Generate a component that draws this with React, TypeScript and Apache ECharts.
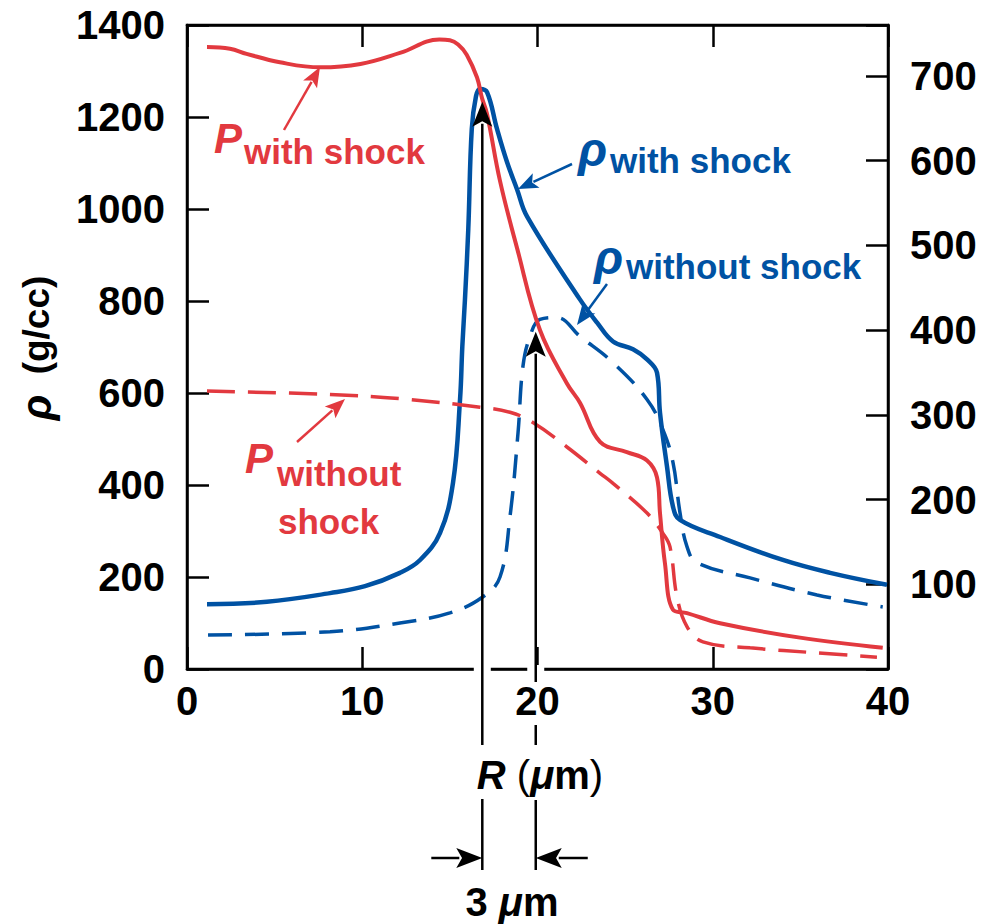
import React, { useEffect, useRef } from "react";
import * as echarts from "echarts";

const FONT = '"Liberation Sans", Arial, Helvetica, sans-serif';
const RED = "#E2393F";
const BLUE = "#0052A3";

// R (µm) values and densities / pressures
const rhoWithShockR = [1.14, 4.56, 8.16, 10.16, 12.15, 13.3, 14.44, 15.18, 15.58, 15.71, 15.86, 16.05, 16.25, 16.49, 16.72, 17.12, 17.69, 18.26, 18.83, 19.4, 22.43, 23.4, 24.31, 25.45, 26.25, 26.82, 26.99, 27.39, 27.73, 28.13, 30.42, 34.0, 36.7, 39.94];
const rhoWithShockV = [141, 146, 165, 180, 209, 237, 296, 405, 586, 701, 803, 956, 1174, 1245, 1261, 1254, 1174, 1102, 1043, 984, 803, 753, 712, 695, 673, 644, 557, 440, 353, 324, 287, 237, 209, 183];

const rhoWithoutShockR = [1.2, 8.16, 12.15, 15.0, 16.89, 17.86, 18.43, 18.89, 19.17, 19.57, 20.14, 21.11, 22.43, 24.31, 26.25, 27.16, 27.73, 28.13, 28.53, 29.1, 32.13, 35.95, 39.7];
const rhoWithoutShockV = [74, 81, 100, 122, 157, 200, 331, 514, 658, 723, 760, 764, 723, 666, 586, 520, 449, 340, 266, 231, 198, 161, 135];

const pWithShockR = [1.14, 2.45, 3.4, 5.3, 7.6, 9.9, 12.15, 14.4, 15.0, 15.47, 15.96, 16.55, 16.83, 17.12, 17.86, 18.83, 20.14, 21.68, 22.43, 23.57, 25.1, 26.25, 26.82, 26.99, 27.27, 27.73, 28.53, 30.42, 34.98, 39.7];
const pWithShockV = [734, 732, 726, 716, 710, 714, 727, 743, 742, 737, 725, 698, 674, 655, 576, 497, 400, 337, 314, 268, 256, 246, 226, 184, 125, 70, 66, 54, 37, 25];

const pWithoutShockR = [1.14, 8.16, 12.15, 16.72, 18.43, 19.74, 21.68, 23.57, 24.31, 26.25, 27.16, 27.56, 27.96, 28.53, 29.44, 32.13, 35.95, 39.37];
const pWithoutShockV = [328, 324, 319, 309, 303, 291, 262, 231, 219, 184, 160, 144, 85, 50, 32, 25, 19, 14];

// axis settings
const xMin = 0, xMax = 40, xStep = 10;
const rhoMin = 0, rhoMax = 1400, rhoStep = 200;
const pMin = 0, pMax = 760, pStep = 100, pLabelMax = 700;

// annotation anchor points (data units)
const shockPeakMark = { r: 16.85, rho: 1233 };
const noShockPeakMark = { r: 19.9, rho: 733 };

const zip = (a: number[], b: number[]) => a.map((x, i) => [x, b[i]]);

function arrow(x1: number, y1: number, x2: number, y2: number, color: string, lw: number, hl: number, hw: number) {
  const dx = x2 - x1, dy = y2 - y1;
  const len = Math.hypot(dx, dy);
  const ux = dx / len, uy = dy / len;
  const bx = x2 - ux * hl, by = y2 - uy * hl;
  const px = -uy, py = ux;
  return [
    { type: "line", z: 60, shape: { x1, y1, x2: bx + ux * 3, y2: by + uy * 3 }, style: { stroke: color, lineWidth: lw } },
    {
      type: "polygon", z: 61,
      shape: { points: [[x2, y2], [bx + px * hw, by + py * hw], [bx + ux * hl * 0.22, by + uy * hl * 0.22], [bx - px * hw, by - py * hw]] },
      style: { fill: color },
    },
  ];
}

function txt(x: number, y: number, text: string, size: number, color: string, italic = false, align = "left") {
  return {
    type: "text", x, y, z: 70,
    style: {
      text, fill: color, fontSize: size, fontWeight: "bold", fontFamily: FONT,
      fontStyle: italic ? "italic" : "normal", align, verticalAlign: "middle",
    },
  };
}

export default function App() {
  const ref = useRef<HTMLDivElement>(null);
  useEffect(() => {
    const el = ref.current!;
    const chart = echarts.init(el, null, { renderer: "svg" });
    const axisLine = () => ({ show: true, onZero: false, lineStyle: { color: "#000", width: 2.5 } });
    const axisTick = () => ({ show: true, inside: true, length: 22, lineStyle: { color: "#000", width: 2.5 } });
    const label = () => ({ color: "#000", fontSize: 40, fontWeight: "bold", fontFamily: FONT });
    const lineCommon = { type: "line", showSymbol: false, smooth: 0.4 };
    chart.setOption({
      animation: false,
      backgroundColor: "#fff",
      grid: { left: 187, right: 93, top: 25, bottom: 255, show: true, borderColor: "#000", borderWidth: 2.5, backgroundColor: "transparent" },
      xAxis: [
        { type: "value", gridIndex: 0, min: xMin, max: xMax, interval: xStep, position: "bottom", axisLine: axisLine(), axisTick: axisTick(), axisLabel: { ...label(), margin: 12, formatter: (v: number) => String(v) }, splitLine: { show: false } },
        { type: "value", gridIndex: 0, min: xMin, max: xMax, interval: xStep, position: "top", axisLine: axisLine(), axisTick: axisTick(), axisLabel: { show: false }, splitLine: { show: false } },
      ],
      yAxis: [
        { type: "value", gridIndex: 0, min: rhoMin, max: rhoMax, interval: rhoStep, position: "left", axisLine: axisLine(), axisTick: axisTick(), axisLabel: { ...label(), margin: 22, formatter: (v: number) => String(v) }, splitLine: { show: false } },
        {
          type: "value", gridIndex: 0, min: pMin, max: pMax, interval: pStep, position: "right", axisLine: axisLine(), axisTick: axisTick(),
          axisLabel: { ...label(), margin: 22, formatter: (v: number) => (v <= 0 || v > pLabelMax ? "" : String(v)) },
          splitLine: { show: false },
        },
      ],
      series: [
        { ...lineCommon, name: "rho without shock", xAxisIndex: 0, yAxisIndex: 0, data: zip(rhoWithoutShockR, rhoWithoutShockV), lineStyle: { color: BLUE, width: 3.5, type: [24, 13] }, z: 3 },
        { ...lineCommon, name: "rho with shock", xAxisIndex: 0, yAxisIndex: 0, data: zip(rhoWithShockR, rhoWithShockV), lineStyle: { color: BLUE, width: 4.5 }, z: 4 },
        { ...lineCommon, name: "P without shock", xAxisIndex: 0, yAxisIndex: 1, data: zip(pWithoutShockR, pWithoutShockV), lineStyle: { color: RED, width: 3.5, type: [28, 13] }, z: 5 },
        { ...lineCommon, name: "P with shock", xAxisIndex: 0, yAxisIndex: 1, data: zip(pWithShockR, pWithShockV), lineStyle: { color: RED, width: 4 }, z: 6 },
      ],
    });

    const gx = (v: number) => chart.convertToPixel({ xAxisIndex: 0 }, v) as number;
    const gy = (v: number) => chart.convertToPixel({ yAxisIndex: 0 }, v) as number;
    const x1 = gx(shockPeakMark.r);
    const x2 = gx(noShockPeakMark.r);
    const tip1 = gy(shockPeakMark.rho);
    const tip2 = gy(noShockPeakMark.rho);
    const axisY = gy(0);
    const vline = (x: number, ya: number, yb: number) => ({ type: "line", z: 60, shape: { x1: x, y1: ya, x2: x, y2: yb }, style: { stroke: "#000", lineWidth: 2.5 } });
    const gapRect = (x: number) => ({ type: "rect", z: 55, shape: { x: x - 8.5, y: axisY - 4, width: 17, height: 8 }, style: { fill: "#fff" } });

    const elements: any[] = [
      gapRect(x1), gapRect(x2),
      ...arrow(x1, axisY + 76, x1, tip1, "#000", 2.5, 25, 10),
      vline(x1, axisY + 130, axisY + 201),
      ...arrow(x2, axisY + 13, x2, tip2, "#000", 2.5, 25, 10),
      vline(x2, axisY + 56, axisY + 76),
      vline(x2, axisY + 131, axisY + 201),
      ...arrow(x1 - 51, axisY + 189, x1, axisY + 189, "#000", 2.5, 26, 10),
      ...arrow(x2 + 52, axisY + 189, x2, axisY + 189, "#000", 2.5, 26, 10),
      // colored label arrows
      ...arrow(284, 130, 320, 67, RED, 2.5, 20, 8),
      ...arrow(572, 164, 518, 189, BLUE, 2.5, 20, 8),
      ...arrow(607, 284, 577, 325, BLUE, 2.5, 20, 8),
      ...arrow(297, 442, 345, 399, RED, 2.5, 20, 8),
      // labels
      txt(214, 138, "P", 42, RED, true),
      txt(244, 151, "with shock", 35, RED),
      txt(578, 149, "ρ", 48, BLUE, true),
      txt(610, 160, "with shock", 35, BLUE),
      txt(594, 257, "ρ", 48, BLUE, true),
      txt(626, 266, "without shock", 35, BLUE),
      txt(245, 458, "P", 42, RED, true),
      txt(277, 473, "without", 35, RED),
      txt(278, 521, "shock", 35, RED),
      {
        type: "text", x: 540, y: 775, z: 70,
        style: {
          text: "{r|R}{n| (}{m|μ}{b|m}{n|)}", align: "center", verticalAlign: "middle",
          rich: {
            r: { fontSize: 40, fontWeight: "bold", fontStyle: "italic", fontFamily: FONT, fill: "#000", color: "#000" },
            n: { fontSize: 40, fontWeight: "normal", fontFamily: FONT, fill: "#000", color: "#000" },
            m: { fontSize: 40, fontWeight: "bold", fontStyle: "italic", fontFamily: FONT, fill: "#000", color: "#000" },
            b: { fontSize: 40, fontWeight: "bold", fontFamily: FONT, fill: "#000", color: "#000" },
          },
        },
      },
      {
        type: "text", x: 512, y: 902, z: 70,
        style: {
          text: "{b|3 }{m|μ}{b|m}", align: "center", verticalAlign: "middle",
          rich: {
            b: { fontSize: 40, fontWeight: "bold", fontFamily: FONT, fill: "#000", color: "#000" },
            m: { fontSize: 40, fontWeight: "bold", fontStyle: "italic", fontFamily: FONT, fill: "#000", color: "#000" },
          },
        },
      },
      {
        type: "text", x: 36, y: 348, z: 70, rotation: Math.PI / 2,
        style: {
          text: "{m|ρ}{b|  (g/cc)}", align: "center", verticalAlign: "middle",
          rich: {
            m: { fontSize: 42, fontWeight: "bold", fontStyle: "italic", fontFamily: FONT, fill: "#000", color: "#000" },
            b: { fontSize: 37, fontWeight: "bold", fontFamily: FONT, fill: "#000", color: "#000" },
          },
        },
      },
    ];
    chart.setOption({ graphic: { elements } });
    return () => chart.dispose();
  }, []);
  return <div ref={ref} style={{ position: "fixed", left: 0, top: 0, width: 981, height: 924, background: "#fff" }} />;
}
